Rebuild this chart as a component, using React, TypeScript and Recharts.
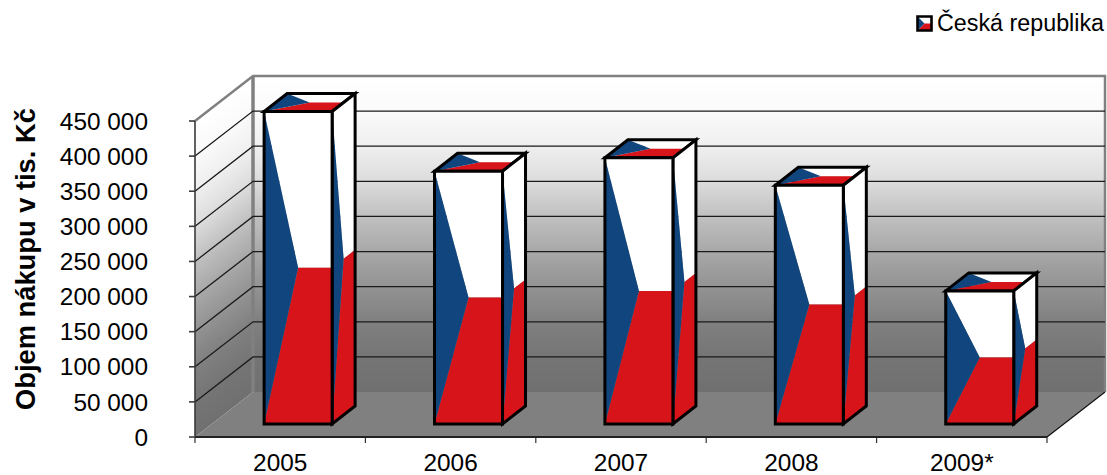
import React from 'react';
import { BarChart, Bar, XAxis, YAxis, CartesianGrid, Legend, usePlotArea } from 'recharts';

// Annual purchase volume in thousand CZK
const years = ['2005', '2006', '2007', '2008', '2009*'];
const purchases = [445000, 360000, 379000, 340000, 189500];
const valueTicks = [0, 50000, 100000, 150000, 200000, 250000, 300000, 350000, 400000, 450000];
const seriesName = 'Česká republika';
const axisTitle = 'Objem nákupu v tis. Kč';

const rows = years.map((year, i) => ({ year, value: purchases[i] }));

const BLUE = '#11457e';
const RED = '#d7141a';
const FONT = '"Liberation Sans", Arial, sans-serif';

// Oblique projection of the chart box and of each column
const WALL_DX = 58;
const WALL_DY = -45;
const BOX_DX = 23;
const BOX_DY = -18;
const BOX_SHIFT_X = 18;
const BOX_SHIFT_Y = -13;
const PLOT_TOP = 121;
const PLOT_HEIGHT = 316;

// Shading of the walls, from top to floor
const wallShades = ['#ffffff', '#fafafa', '#efefef', '#dcdcdc', '#c0c0c0', '#a8a8a8', '#939393', '#808080', '#757575', '#707070'];

type Pt = [number, number];
const pts = (list: Pt[]) => list.map((p) => p.join(',')).join(' ');
const mid = (a: Pt, b: Pt): Pt => [(a[0] + b[0]) / 2, (a[1] + b[1]) / 2];

// One parallelogram painted as the Czech flag
function FlagFace({ tl, tr, br, bl, strokeWidth }: { tl: Pt; tr: Pt; br: Pt; bl: Pt; strokeWidth: number }) {
  const midLeft = mid(tl, bl);
  const midRight = mid(tr, br);
  const center = mid(midLeft, midRight);
  return (
    <g>
      <polygon points={pts([tl, tr, midRight, center])} fill="#ffffff" />
      <polygon points={pts([center, midRight, br, bl])} fill={RED} />
      <polygon points={pts([tl, center, bl])} fill={BLUE} />
      <polygon points={pts([tl, tr, br, bl])} fill="none" stroke="#000" strokeWidth={strokeWidth} strokeLinejoin="miter" />
    </g>
  );
}

function FlagColumn(props: any) {
  const { x, y, width, height } = props;
  const left = x + BOX_SHIFT_X;
  const right = left + width;
  const top = y + BOX_SHIFT_Y;
  const bottom = top + height;
  return (
    <g>
      <FlagFace
        tl={[left + BOX_DX, top + BOX_DY]}
        tr={[right + BOX_DX, top + BOX_DY]}
        br={[right, top]}
        bl={[left, top]}
        strokeWidth={3}
      />
      <FlagFace
        tl={[right, top]}
        tr={[right + BOX_DX, top + BOX_DY]}
        br={[right + BOX_DX, bottom + BOX_DY]}
        bl={[right, bottom]}
        strokeWidth={3}
      />
      <FlagFace tl={[left, top]} tr={[right, top]} br={[right, bottom]} bl={[left, bottom]} strokeWidth={3} />
    </g>
  );
}

// Back wall, side wall, floor and the ticks between categories
function ChartBox() {
  const area = usePlotArea();
  if (!area) return null;
  const { x, y, width, height } = area;
  const x2 = x + width;
  const y2 = y + height;
  const bx = x + WALL_DX;
  const bx2 = x2 + WALL_DX;
  const by = y + WALL_DY;
  const by2 = y2 + WALL_DY;
  // The side wall's shade follows its slant, so the gradient runs normal to the top edge
  const nx = -WALL_DY;
  const ny = WALL_DX;
  const reach = (height * ny) / (nx * nx + ny * ny);
  const stops = wallShades.map((c, i) => <stop key={i} offset={i / (wallShades.length - 1)} stopColor={c} />);
  return (
    <g>
      <defs>
        <linearGradient id="wallShade" x1="0" y1="0" x2="0" y2="1">
          {stops}
        </linearGradient>
        <linearGradient id="sideShade" gradientUnits="userSpaceOnUse" x1={x} y1={y} x2={x + nx * reach} y2={y + ny * reach}>
          {stops}
        </linearGradient>
      </defs>
      <rect x={bx} y={by} width={width} height={height} fill="url(#wallShade)" />
      <polygon points={pts([[x, y], [bx, by], [bx, by2], [x, y2]])} fill="url(#sideShade)" />
      <polygon points={pts([[x, y2], [x2, y2], [bx2, by2], [bx, by2]])} fill="#808080" />
      <polyline points={pts([[x, y], [bx, by], [bx2, by], [bx2, by2]])} fill="none" stroke="#808080" strokeWidth={2.5} />
      <line x1={bx} y1={by} x2={bx} y2={by2} stroke="#808080" strokeWidth={3.5} />
      <line x1={x2} y1={y2} x2={bx2} y2={by2} stroke="#111" strokeWidth={1.2} />
      {years.map((_, i) => {
        const tx = x + (width * (i + 1)) / years.length;
        return <line key={i} x1={tx} y1={y2} x2={tx} y2={y2 + 6} stroke="#333" strokeWidth={1.2} />;
      })}
      <line x1={x} y1={y2} x2={x} y2={y2 + 6} stroke="#333" strokeWidth={1.2} />
    </g>
  );
}

// Grid line running along the side wall and across the back wall
function gridLine(props: any) {
  const { x1, x2, y1, key } = props;
  if (Math.abs(y1 - PLOT_TOP) < 1 || Math.abs(y1 - (PLOT_TOP + PLOT_HEIGHT)) < 1) return <g key={key} />;
  return (
    <polyline
      key={key}
      points={pts([[x1, y1], [x1 + WALL_DX, y1 + WALL_DY], [x2 + WALL_DX, y1 + WALL_DY]])}
      fill="none"
      stroke="#1a1a1a"
      strokeWidth={1.3}
    />
  );
}

function LegendBox() {
  return (
    <div style={{ display: 'flex', alignItems: 'center', fontFamily: FONT, fontSize: 23.3, color: '#000', lineHeight: '28px', whiteSpace: 'nowrap' }}>
      <svg width={17} height={17} style={{ marginRight: 4 }}>
        <FlagFace tl={[1.5, 1.5]} tr={[15.5, 1.5]} br={[15.5, 15.5]} bl={[1.5, 15.5]} strokeWidth={2.6} />
      </svg>
      <span>{seriesName}</span>
    </div>
  );
}

const formatValue = (v: number) => String(v).replace(/\B(?=(\d{3})+$)/g, ' ');

export default function App() {
  return (
    <div style={{ position: 'absolute', left: 0, top: 0, width: 1107, height: 475 }}>
      <BarChart
        width={1107}
        height={475}
        data={rows}
        barCategoryGap="30%"
        margin={{ top: PLOT_TOP, right: 60, bottom: 0, left: 0 }}
      >
        <ChartBox />
        <CartesianGrid vertical={false} horizontal={gridLine} zIndex={100} />
        <XAxis
          dataKey="year"
          height={38}
          tickLine={false}
          tickMargin={11}
          stroke="#222"
          strokeWidth={1.8}
          tick={{ fontFamily: FONT, fontSize: 24.4, fill: '#000' }}
        />
        <YAxis
          width={195}
          domain={[0, 450000]}
          ticks={valueTicks}
          interval={0}
          tickSize={6}
          tickMargin={41}
          stroke="#3a3a3a"
          strokeWidth={1.6}
          tickFormatter={formatValue}
          tick={{ fontFamily: FONT, fontSize: 24.4, fill: '#000' }}
          label={{
            value: axisTitle,
            angle: -90,
            position: 'insideLeft',
            dx: 20,
            dy: 131,
            style: { fontFamily: FONT, fontSize: 27.3, fontWeight: 700, fill: '#000' },
          }}
        />
        <Bar dataKey="value" name={seriesName} isAnimationActive={false} shape={FlagColumn} />
        <Legend
          verticalAlign="middle"
          align="center"
          content={<LegendBox />}
          wrapperStyle={{ left: 916, top: 9, width: 191 }}
        />
      </BarChart>
    </div>
  );
}
